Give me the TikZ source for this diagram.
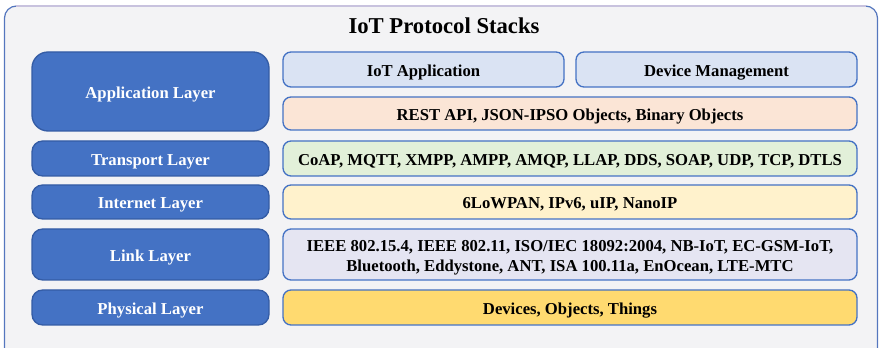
\documentclass[tikz,border=0pt]{standalone}
\usepackage{fontspec}
\setmainfont{Liberation Serif}
\usepackage{tikz}
\definecolor{frameback}{RGB}{243,243,245}
\definecolor{frameline}{RGB}{84,118,190}
\definecolor{frametop}{RGB}{200,194,222}
\definecolor{layerfill}{RGB}{68,114,196}
\definecolor{layerline}{RGB}{52,92,165}
\definecolor{boxline}{RGB}{68,114,196}
\definecolor{appblue}{RGB}{218,227,243}
\definecolor{restpeach}{RGB}{251,229,214}
\definecolor{transgreen}{RGB}{226,240,217}
\definecolor{netyellow}{RGB}{255,242,204}
\definecolor{linklilac}{RGB}{229,229,242}
\definecolor{physgold}{RGB}{255,218,112}
\tikzset{
  layerbox/.style={draw=layerline, fill=layerfill, line width=1pt, rounded corners=8pt,
    inner sep=0pt, text=white, text height=10.5pt, text depth=0pt,
    font=\fontsize{12.5}{15}\selectfont\bfseries},
  protobox/.style={draw=boxline, line width=1pt, rounded corners=6pt,
    inner sep=0pt, text height=10pt, text depth=0pt,
    font=\fontsize{12.5}{14.5}\selectfont\bfseries, align=center},
}
\newcommand{\layer}[4]{\node[layerbox, minimum width=237*0.75pt, minimum height=#3*0.75pt, #4] (#1) at (150.5,#2) {#1 Layer};}
\begin{document}
\begin{tikzpicture}[x=0.75pt,y=-0.75pt]
\useasboundingbox (0,0) rectangle (879,348);
% frame
\draw[fill=frameback, draw=frameline, line width=0.9pt, rounded corners=9pt] (4.5,6) rectangle (877.5,360);
\draw[draw=frametop, line width=0.9pt] (16,6) -- (866,6);
\node[font=\fontsize{17}{20}\selectfont\bfseries, text height=12pt, text depth=0pt] (title) at (444,26) {IoT Protocol Stacks};
% left column
\layer{Application}{91.5}{79}{rounded corners=12pt}
\layer{Transport}{158.5}{35}{}
\layer{Internet}{202}{34}{}
\layer{Link}{254.5}{51}{}
\layer{Physical}{307.5}{35}{}
% right column
\node[protobox, fill=appblue, minimum width=281*0.75pt, minimum height=35*0.75pt] (iotapp) at (423.5,69.5) {IoT Application};
\node[protobox, fill=appblue, minimum width=281*0.75pt, minimum height=35*0.75pt] (devmgmt) at (716.5,69.5) {Device Management};
\node[protobox, fill=restpeach, minimum width=574*0.75pt, minimum height=33*0.75pt] (rest) at (570,113.5) {REST API, JSON-IPSO Objects, Binary Objects};
\node[protobox, fill=transgreen, minimum width=574*0.75pt, minimum height=35*0.75pt] (transp) at (570,158.5) {CoAP, MQTT, XMPP, AMPP, AMQP, LLAP, DDS, SOAP, UDP, TCP, DTLS};
\node[protobox, fill=netyellow, minimum width=574*0.75pt, minimum height=34*0.75pt] (inet) at (570,202) {6LoWPAN, IPv6, uIP, NanoIP};
\node[protobox, fill=linklilac, minimum width=574*0.75pt, minimum height=51*0.75pt, text height=25pt, text depth=0pt] (link) at (570,254.5) {IEEE 802.15.4, IEEE 802.11, ISO/IEC 18092:2004, NB-IoT, EC-GSM-IoT,\\Bluetooth, Eddystone, ANT, ISA 100.11a, EnOcean, LTE-MTC};
\node[protobox, fill=physgold, minimum width=574*0.75pt, minimum height=35*0.75pt] (phys) at (570,307.5) {Devices, Objects, Things};
\end{tikzpicture}
\end{document}
